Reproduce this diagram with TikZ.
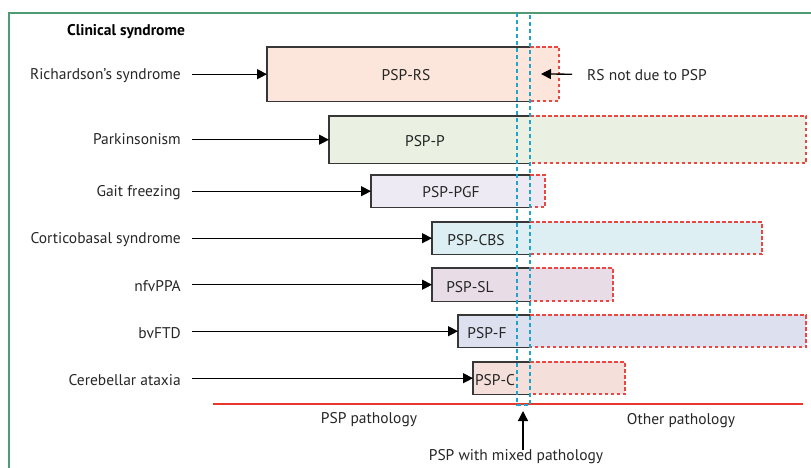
\documentclass[tikz,border=0pt]{standalone}
\usepackage{fontspec}
\setmainfont{PT Sans}
\usetikzlibrary{arrows.meta}
\definecolor{framegreen}{RGB}{80,155,115}
\definecolor{edgegrey}{RGB}{55,55,55}
\definecolor{dashred}{RGB}{235,70,65}
\definecolor{mixblue}{RGB}{30,165,205}
\definecolor{lineRed}{RGB}{232,55,45}
\definecolor{rsfill}{RGB}{252,229,218}
\definecolor{pfill}{RGB}{234,241,226}
\definecolor{pgffill}{RGB}{238,234,244}
\definecolor{cbsfill}{RGB}{221,239,242}
\definecolor{slfill}{RGB}{232,221,231}
\definecolor{ffill}{RGB}{221,224,239}
\definecolor{cfill}{RGB}{245,223,218}
\tikzset{
  lab/.style={anchor=east,inner sep=0pt,yshift=-1.5pt,font=\fontsize{15.5}{18}\selectfont,text=black!85},
  boxtext/.style={inner sep=0pt,yshift=-1pt,font=\fontsize{15.5}{18}\selectfont,text=black!85},
  psbox/.style={anchor=north west,inner sep=0pt,draw=none},
  solidedge/.style={edgegrey,line width=1.4pt},
  dashedge/.style={dashred,line width=1.3pt,dash pattern=on 3.5pt off 2.5pt},
  arr/.style={-{Triangle[length=10pt,width=10pt]},line width=1.3pt,black}
}
\begin{document}
\begin{tikzpicture}[x=1pt,y=-1pt]
  \useasboundingbox (0,0) rectangle (811,468);
  % Frame
  \draw[framegreen,line width=1.8pt] (9,468) -- (9,13) -- (811,13);
  \node[font=\fontsize{15.5}{18}\selectfont\bfseries,inner sep=0pt] (head) at (126,32) {Clinical syndrome};
  % Richardson's syndrome
  \fill[rsfill] (530,47) rectangle (559,101);
  \draw[dashedge] (530,47) -- (559,47) -- (559,101) -- (530,101);
  \node[psbox,fill=rsfill,minimum width=263pt,minimum height=54pt] (rs) at (267,47) {};
  \draw[solidedge] (rs.north east) -- (rs.north west) -- (rs.south west) -- (rs.south east);
  \node[boxtext] (rstxt) at (406,74) {PSP-RS};
  \node[lab] (rslab) at (181,74) {Richardson’s syndrome};
  \draw[arr] ([xshift=11pt]rs.west -| rslab.east) -- (rs.west);
  % RS not due to PSP
  \node[boxtext,anchor=west] (notpsp) at (587,74) {RS not due to PSP};
  \draw[arr] ([xshift=-15pt]notpsp.west |- rs.west) -- (541,74);
  % Parkinsonism
  \fill[pfill] (530,116) rectangle (806,163);
  \draw[dashedge] (530,116) -- (806,116) -- (806,163) -- (530,163);
  \node[psbox,fill=pfill,minimum width=201pt,minimum height=47pt] (p) at (329,116) {};
  \draw[solidedge] (p.north east) -- (p.north west) -- (p.south west) -- (p.south east);
  \node[boxtext] (ptxt) at (425,140) {PSP-P};
  \node[lab] (plab) at (181,138) {Parkinsonism};
  \draw[arr] ([xshift=11pt]p.west -| plab.east) -- (p.west);
  % Gait freezing
  \fill[pgffill] (530,175) rectangle (545,207);
  \draw[dashedge] (530,175) -- (545,175) -- (545,207) -- (530,207);
  \node[psbox,fill=pgffill,minimum width=159pt,minimum height=32pt] (pgf) at (371,175) {};
  \draw[solidedge] (pgf.north east) -- (pgf.north west) -- (pgf.south west) -- (pgf.south east);
  \node[boxtext] (pgftxt) at (451,191) {PSP-PGF};
  \node[lab] (pgflab) at (181,191) {Gait freezing};
  \draw[arr] ([xshift=11pt]pgf.west -| pgflab.east) -- (pgf.west);
  % Corticobasal syndrome
  \fill[cbsfill] (530,222) rectangle (762,254);
  \draw[dashedge] (530,222) -- (762,222) -- (762,254) -- (530,254);
  \node[psbox,fill=cbsfill,minimum width=98pt,minimum height=32pt] (cbs) at (432,222) {};
  \draw[solidedge] (cbs.north east) -- (cbs.north west) -- (cbs.south west) -- (cbs.south east);
  \node[boxtext] (cbstxt) at (476,239) {PSP-CBS};
  \node[lab] (cbslab) at (181,238) {Corticobasal syndrome};
  \draw[arr] ([xshift=11pt]cbs.west -| cbslab.east) -- (cbs.west);
  % nfvPPA
  \fill[slfill] (530,268) rectangle (613,301);
  \draw[dashedge] (530,268) -- (613,268) -- (613,301) -- (530,301);
  \node[psbox,fill=slfill,minimum width=98pt,minimum height=33pt] (sl) at (432,268) {};
  \draw[solidedge] (sl.north east) -- (sl.north west) -- (sl.south west) -- (sl.south east);
  \node[boxtext] (sltxt) at (470,286) {PSP-SL};
  \node[lab] (sllab) at (181,285) {nfvPPA};
  \draw[arr] ([xshift=11pt]sl.west -| sllab.east) -- (sl.west);
  % bvFTD
  \fill[ffill] (530,315) rectangle (806,347);
  \draw[dashedge] (530,315) -- (806,315) -- (806,347) -- (530,347);
  \node[psbox,fill=ffill,minimum width=72pt,minimum height=32pt] (f) at (458,315) {};
  \draw[solidedge] (f.north east) -- (f.north west) -- (f.south west) -- (f.south east);
  \node[boxtext] (ftxt) at (487,332) {PSP-F};
  \node[lab] (flab) at (181,332) {bvFTD};
  \draw[arr] ([xshift=11pt]f.west -| flab.east) -- (f.west);
  % Cerebellar ataxia
  \fill[cfill] (530,362) rectangle (625,394);
  \draw[dashedge] (530,362) -- (625,362) -- (625,394) -- (530,394);
  \node[psbox,fill=cfill,minimum width=57pt,minimum height=32pt] (c) at (473,362) {};
  \draw[solidedge] (c.north east) -- (c.north west) -- (c.south west) -- (c.south east);
  \node[boxtext] (ctxt) at (495,379) {PSP-C};
  \node[lab] (clab) at (181,379) {Cerebellar ataxia};
  \draw[arr] ([xshift=11pt]c.west -| clab.east) -- (c.west);
  % Pathology line
  \draw[lineRed,line width=2.6pt] (213,404) -- (803,404);
  % Mixed pathology band
  \draw[mixblue,line width=1.2pt,dash pattern=on 4pt off 3pt]
    (517,13) -- (517,405) -- (530,405) -- (530,13);
  \node[boxtext] (psppath) at (369,419) {PSP pathology};
  \node[boxtext] (othpath) at (681,420) {Other pathology};
  \node[boxtext] (mixed) at (516,456) {PSP with mixed pathology};
  \draw[arr] (mixed.north -| 523,0) -- (523,411);
\end{tikzpicture}
\end{document}
